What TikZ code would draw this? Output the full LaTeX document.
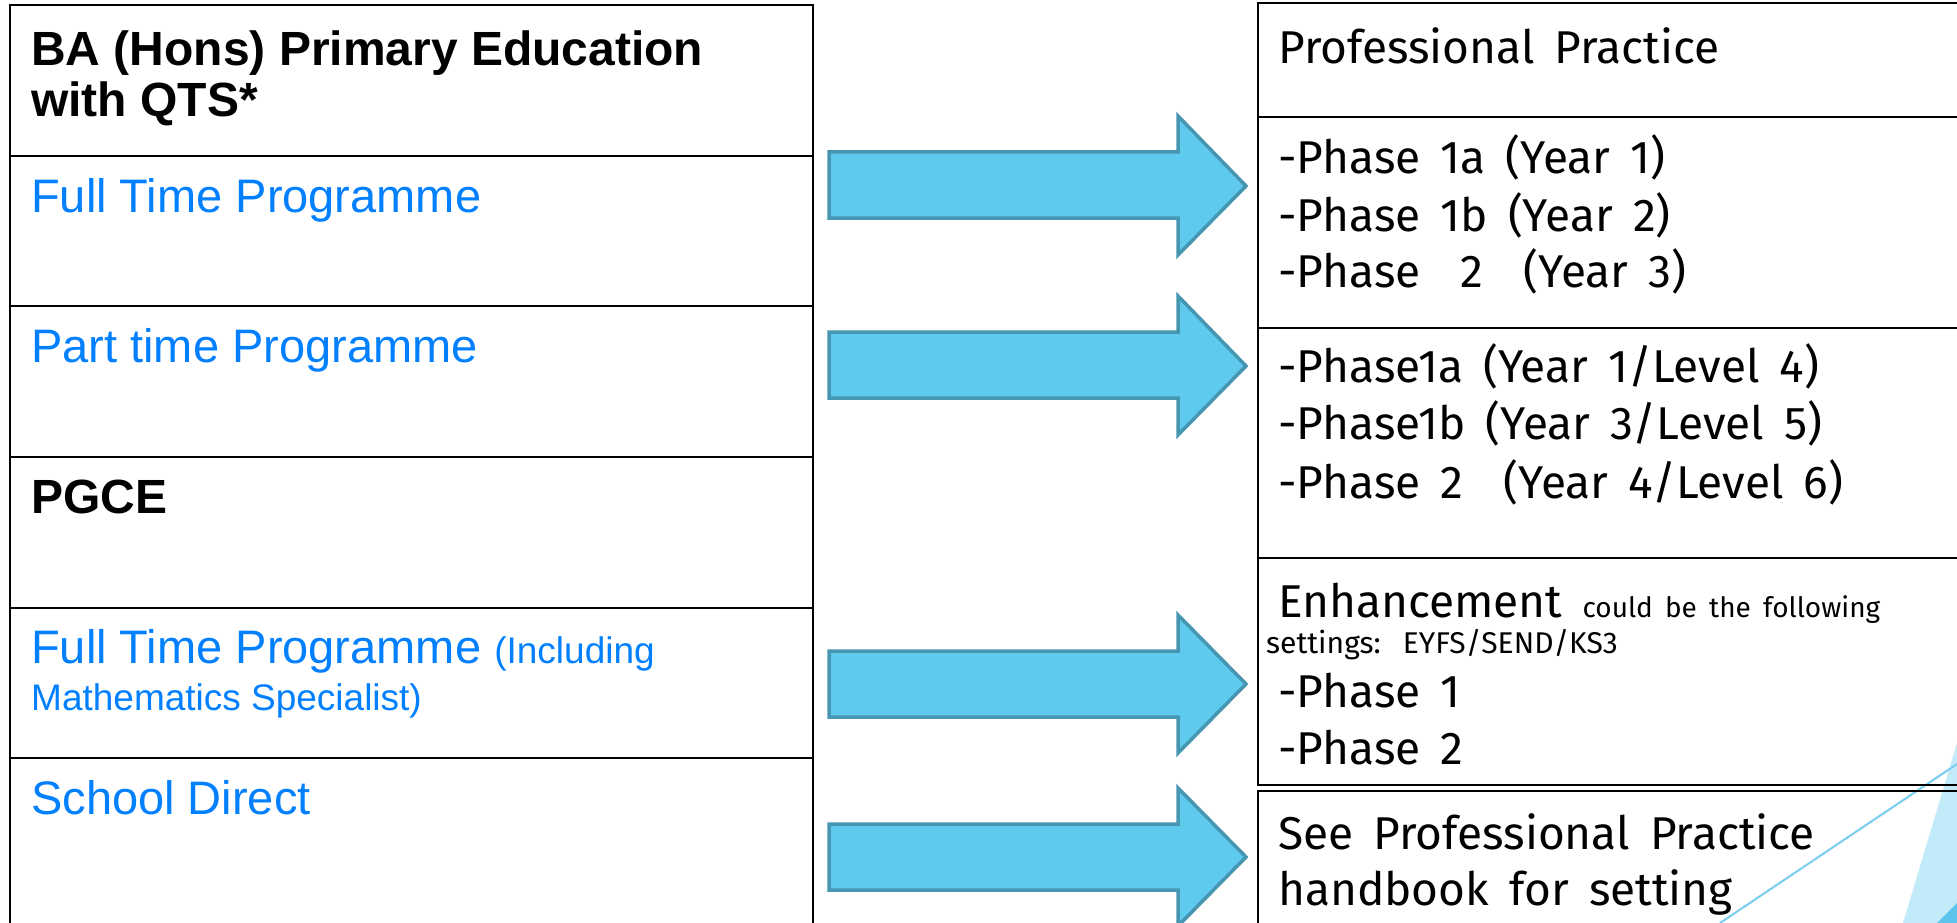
\documentclass[tikz,border=0pt]{standalone}
\usepackage{fontspec}
\setmainfont{Liberation Sans}
\newfontfamily\rfont[WordSpace=1.65]{Fira Sans}
\definecolor{progblue}{RGB}{0,128,255}
\definecolor{arrowfill}{RGB}{94,202,238}
\definecolor{arrowedge}{RGB}{70,150,178}
\definecolor{decolight}{RGB}{194,234,248}
\definecolor{decodark}{RGB}{91,196,236}
\definecolor{decoline}{RGB}{120,205,240}
\begin{document}
\begin{tikzpicture}[x=1pt,y=-1pt,
  cell/.style={draw=black, line width=2.5pt},
  lhead/.style={anchor=base west, inner sep=0pt, font=\fontsize{48}{51}\selectfont\bfseries},
  lprog/.style={anchor=base west, inner sep=0pt, text=progblue, font=\fontsize{47}{52}\selectfont},
  lsmall/.style={anchor=base west, inner sep=0pt, text=progblue, font=\fontsize{37}{40}\selectfont},
  rtext/.style={anchor=base west, inner sep=0pt, font=\rfont\fontsize{46}{57}\selectfont},
  rsmall/.style={anchor=base west, inner sep=0pt, font=\rfont\fontsize{30}{30}\selectfont},
  bigarrow/.style={fill=arrowfill, draw=arrowedge, line width=3.5pt, line join=miter}]
\useasboundingbox (0,0) rectangle (1957,923);
\clip (0,0) rectangle (1957,923);
\fill[white] (0,0) rectangle (1957,923);
% background decoration
\fill[decolight] (1903,923) -- (1957,743) -- (1957,923) -- cycle;
\fill[decodark] (1937,923) -- (1957,903) -- (1957,923) -- cycle;
\draw[decoline, line width=2pt] (1720,923) -- (1957,764);
% left table
\draw[cell] (10,5) rectangle (813,156);
\draw[cell] (10,156) rectangle (813,306);
\draw[cell] (10,306) rectangle (813,457);
\draw[cell] (10,457) rectangle (813,608);
\draw[cell] (10,608) rectangle (813,758);
\draw[cell] (10,758) rectangle (813,940);
% right table
\draw[cell] (1258,3) rectangle (1975,117);
\draw[cell] (1258,117) rectangle (1975,328);
\draw[cell] (1258,328) rectangle (1975,558);
\draw[cell] (1258,558) rectangle (1975,785);
\draw[cell] (1258,791) rectangle (1975,940);
% left texts
\node[lhead] (ba1) at (31,66) {BA (Hons) Primary Education};
\node[lhead] (ba2) at (31,117) {with QTS*};
\node[lprog] (ft) at (31,212) {Full Time Programme};
\node[lprog] (pt) at (31,362) {Part time Programme};
\node[lhead] (pg) at (31,513) {PGCE};
\node[lprog] (ft2) at (31,663) {Full Time Programme {\fontsize{37}{40}\selectfont(Including}};
\node[lsmall] (ms) at (31,710) {Mathematics Specialist)};
\node[lprog] (sd) at (31,814) {School Direct};
% right texts
\node[rtext] (pp) at (1278,64) {Professional Practice};
\node[rtext] (p1a) at (1278,173) {-Phase 1a (Year 1)};
\node[rtext] (p1b) at (1278,231) {-Phase 1b (Year 2)};
\node[rtext] (p2) at (1278,287) {-Phase\ \ 2\ \ (Year 3)};
\node[rtext] (q1a) at (1278,382) {-Phase1a (Year 1/Level 4)};
\node[rtext] (q1b) at (1278,439) {-Phase1b (Year 3/Level 5)};
\node[rtext] (q2) at (1278,498) {-Phase 2\ \ (Year 4/Level 6)};
\node[rtext] (enh) at (1278,617) {Enhancement {\fontsize{28}{30}\selectfont could be the following}};
\node[rsmall] (set) at (1266,653) {settings:\hspace{22pt}EYFS/SEND/KS3};
\node[rtext] (e1) at (1278,707) {-Phase 1};
\node[rtext] (e2) at (1278,764) {-Phase 2};
\node[rtext] (see1) at (1278,849) {See Professional Practice};
\node[rtext] (see2) at (1278,905) {handbook for setting};
% block arrows
\draw[bigarrow] (829,152) -- (1178,152) -- (1178,116) -- (1246,186) -- (1178,255) -- (1178,218) -- (829,218) -- cycle;
\draw[bigarrow] (829,332) -- (1178,332) -- (1178,296) -- (1246,366) -- (1178,435) -- (1178,398) -- (829,398) -- cycle;
\draw[bigarrow] (829,651) -- (1178,651) -- (1178,615) -- (1246,684) -- (1178,753) -- (1178,717) -- (829,717) -- cycle;
\draw[bigarrow] (829,824) -- (1178,824) -- (1178,788) -- (1246,857) -- (1178,926) -- (1178,890) -- (829,890) -- cycle;
\end{tikzpicture}
\end{document}
